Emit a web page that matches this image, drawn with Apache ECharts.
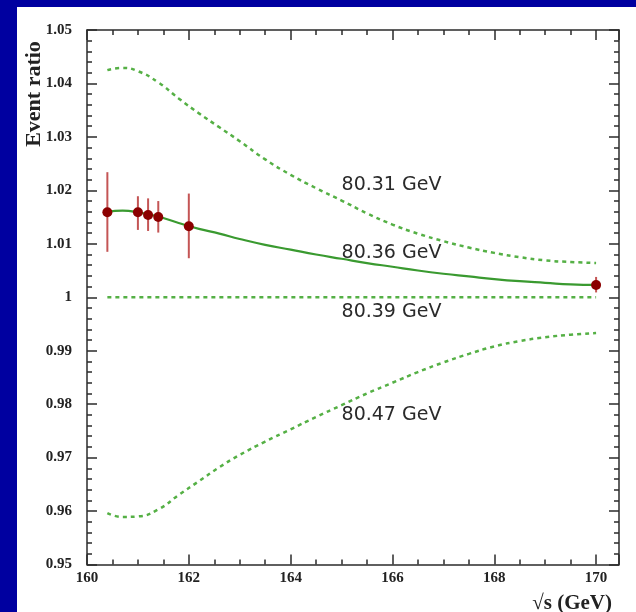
<!DOCTYPE html>
<html><head><meta charset="utf-8">
<script src="https://cdn.jsdelivr.net/npm/echarts@6/dist/echarts.min.js"></script>
<style>
html,body{margin:0;padding:0;width:636px;height:612px;background:#0000a0;overflow:hidden}
#chart{position:absolute;left:17px;top:7px;width:619px;height:605px;background:#fff}
</style></head><body><div id="chart"></div>
<script>
// Measured points with error bars
const dataX  = [160.4, 161.0, 161.2, 161.4, 162.0, 170.0];
const dataY  = [1.0159, 1.0159, 1.0154, 1.0150, 1.0133, 1.0023];
const dataLo = [1.0085, 1.0126, 1.0124, 1.0121, 1.0073, 1.0009];
const dataHi = [1.0234, 1.0189, 1.0185, 1.0180, 1.0194, 1.0038];

// Curves
const curveX   = [160.4,160.7,161.0,161.4,161.8,162.2,162.6,163.0,163.5,164.0,164.5,165.0,165.5,166.0,166.5,167.0,167.5,168.0,168.5,169.0,169.5,170.0];
const curve8031 = [1.0425,1.0429,1.0423,1.0402,1.0372,1.0344,1.0318,1.0292,1.0258,1.0229,1.0204,1.0181,1.0157,1.0136,1.0119,1.0105,1.0093,1.0083,1.0075,1.0069,1.0066,1.0064];
const curve8036 = [1.0160,1.0162,1.0159,1.0151,1.0139,1.0128,1.0119,1.0109,1.0098,1.0089,1.0080,1.0072,1.0064,1.0057,1.0050,1.0044,1.0039,1.0034,1.0030,1.0027,1.0024,1.0023];
const curve8047 = [0.9596,0.9589,0.9590,0.9603,0.9630,0.9656,0.9682,0.9705,0.9730,0.9753,0.9776,0.9798,0.9820,0.9840,0.9860,0.9878,0.9894,0.9908,0.9918,0.9925,0.9930,0.9933];
const flatX    = [160.4, 170.0];
const curve8039 = [1.0, 1.0];

// Curve labels (name, anchor x, anchor y in data units)
const labelNames = ['80.31 GeV', '80.36 GeV', '80.39 GeV', '80.47 GeV'];
const labelX     = [165.0, 165.0, 165.0, 165.0];
const labelY     = [1.0210, 1.0083, 0.9973, 0.9780];

// Axis ranges / ticks
const xMin = 160, xMax = 170.45, xMajor = 2, xMinor = 0.5;
const yMin = 0.95, yMax = 1.05, yMajor = 0.01;

const zip = (xs, ys) => xs.map((x, i) => [x, ys[i]]);
const axisColor = '#2b2b2b';
const lineSt = {color: axisColor, width: 1.5};
const tickFont = {fontFamily: 'Liberation Serif', fontWeight: 'bold', fontSize: 15, color: '#222'};

function xAx(pos, interval, major, labels) {
  return {
    type: 'value', position: pos, min: xMin, max: xMax, interval: interval,
    axisLine: {show: major, onZero: false, lineStyle: lineSt},
    axisTick: {show: true, inside: true, length: major ? 10 : 5, lineStyle: lineSt},
    axisLabel: labels ? Object.assign({show: true, margin: 6,
      formatter: v => Math.abs(v - Math.round(v)) < 1e-6 ? String(Math.round(v)) : ''}, tickFont) : {show: false},
    splitLine: {show: false}
  };
}
function yAx(pos, labels) {
  return {
    type: 'value', position: pos, min: yMin, max: yMax, interval: yMajor,
    axisLine: {show: true, onZero: false, lineStyle: lineSt},
    axisTick: {show: true, inside: true, length: 10, lineStyle: lineSt},
    minorTick: {show: true, splitNumber: 5, length: 5, lineStyle: lineSt},
    axisLabel: labels ? Object.assign({show: true, margin: 15,
      formatter: v => String(+(+v).toFixed(2))}, tickFont) : {show: false},
    splitLine: {show: false}, minorSplitLine: {show: false}
  };
}

const chart = echarts.init(document.getElementById('chart'), null, {renderer: 'canvas'});
const dashStyle = {color: '#55b045', width: 2.5, type: [4, 4]};

chart.setOption({
  animation: false,
  backgroundColor: '#ffffff',
  grid: {left: 70, top: 23, right: 17, bottom: 47.5, containLabel: false},
  xAxis: [xAx('bottom', xMajor, true, true), xAx('bottom', xMinor, false, false),
          xAx('top', xMajor, true, false), xAx('top', xMinor, false, false)],
  yAxis: [yAx('left', true), yAx('right', false)],
  graphic: [
    {type: 'text', x: 17, y: 87, rotation: Math.PI / 2,
     style: {text: 'Event ratio', align: 'center', verticalAlign: 'middle',
             font: 'bold 22px "Liberation Serif"', fill: '#222'}},
    {type: 'text', x: 595, y: 597,
     style: {text: '\u221As (GeV)', align: 'right', verticalAlign: 'middle',
             font: 'bold 21px "Liberation Serif"', fill: '#222'}}
  ],
  series: [
    {type: 'line', name: '80.31', data: zip(curveX, curve8031), showSymbol: false,
     smooth: 0.5, lineStyle: dashStyle, silent: true},
    {type: 'line', name: '80.39', data: zip(flatX, curve8039), showSymbol: false,
     lineStyle: dashStyle, silent: true},
    {type: 'line', name: '80.47', data: zip(curveX, curve8047), showSymbol: false,
     smooth: 0.5, lineStyle: dashStyle, silent: true},
    {type: 'line', name: '80.36', data: zip(curveX, curve8036), showSymbol: false,
     smooth: 0.5, lineStyle: {color: '#3a9a30', width: 2.2}, silent: true},
    {type: 'custom', name: 'err', z: 4,
     data: dataX.map((x, i) => [x, dataLo[i], dataHi[i]]),
     encode: {x: 0, y: [1, 2]},
     renderItem: (params, api) => {
       const p1 = api.coord([api.value(0), api.value(1)]);
       const p2 = api.coord([api.value(0), api.value(2)]);
       return {type: 'line', shape: {x1: p1[0], y1: p1[1], x2: p2[0], y2: p2[1]},
               style: {stroke: '#c45555', lineWidth: 2}};
     }},
    {type: 'scatter', name: 'data', z: 5, data: zip(dataX, dataY), symbol: 'circle', symbolSize: 10,
     itemStyle: {color: '#8b0000', opacity: 1}},
    {type: 'scatter', name: 'labels', z: 6, symbolSize: 0, silent: true,
     itemStyle: {opacity: 1},
     data: labelNames.map((n, i) => ({name: n, value: [labelX[i], labelY[i]]})),
     label: {show: true, position: 'right', distance: 0, formatter: '{b}',
             fontFamily: 'DejaVu Sans', fontSize: 19, color: '#2a2a2a', opacity: 1}}
  ]
});
</script></body></html>
